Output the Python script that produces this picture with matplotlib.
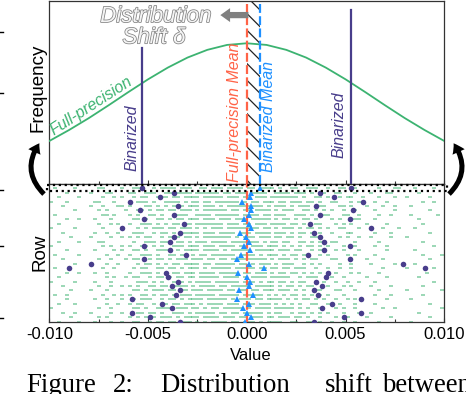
import matplotlib
matplotlib.use('Agg')
import matplotlib.pyplot as plt
from matplotlib.patches import Rectangle, FancyArrowPatch
from matplotlib.lines import Line2D
import matplotlib.patheffects as pe
from matplotlib.ticker import FixedLocator, FixedFormatter, NullFormatter

plt.rcParams['font.family'] = ['Liberation Sans', 'DejaVu Sans']
plt.rcParams['hatch.linewidth'] = 0.9

# ---------------- data ----------------
tick_values = [-0.010, -0.005, 0.000, 0.005, 0.010]
tick_labels = ["-0.010", "-0.005", "0.000", "0.005", "0.010"]
minor_ticks = [-0.0075, -0.0025, 0.0025, 0.0075]

# full-precision distribution curve (relative frequency)
curve_x = [-0.010, -0.009, -0.008, -0.007, -0.006, -0.005, -0.004, -0.003, -0.002, -0.001,
           0.000, 0.001, 0.002, 0.003, 0.004, 0.005, 0.006, 0.007, 0.008, 0.009, 0.010]
curve_y = [0.235, 0.295, 0.360, 0.430, 0.502, 0.572, 0.636, 0.691, 0.733, 0.760,
           0.769, 0.760, 0.733, 0.691, 0.636, 0.572, 0.502, 0.430, 0.360, 0.295, 0.235]

fp_mean = 0.0          # full-precision mean
bin_mean = 0.00065     # binarized mean
bin_value = 0.0053     # binarized magnitude of highlighted row
bin_line_heights = [0.743, 0.951]   # heights of the -/+ binarized bars

# per-row binarized magnitude (alpha) and row mean
row_alpha = [0.0053, 0.0037, 0.0044, 0.0059, 0.0035, 0.0054, 0.0037, 0.0052, 0.0032, 0.0063,
             0.0034, 0.0037, 0.0039, 0.0052, 0.0039, 0.0031, 0.0052, 0.0079, 0.0090, 0.0041,
             0.0040, 0.0035, 0.0038, 0.0034, 0.0036, 0.0058, 0.0043, 0.0038, 0.0058, 0.0049,
             0.0034]
row_mean = [0.00065, 0.0002, 0.00015, -0.00025, 0.0002, 0.0002, 0.0001, -0.00015, 0.0001, 0.0002,
            -0.00035, -0.00005, 0.0001, -0.00015, 0.00015, -0.0003, -0.0005, 0.0001, 0.00085, -0.00045,
            0.0, 0.00015, 0.0001, -0.0004, 0.0003, -0.0005, 0.0001, -0.0002, 0.0, 0.0002,
            -0.0001]

# full-precision weights per row (each char = 0.0002 bin from -0.010)
green_rows = [
    ".o....o... ..oo....o. .ooo..o.oo oo.ooo..oo .ooo.oooo. oo.oooo.o. .oo..ooo.. o..oo..o.. ...o...oo. ..o....o..",
    "....o..... o...oo.... oo..ooo..o o.oooo.ooo ooo.oo.ooo .oooo..ooo o.ooo.o.oo ..oo...o.. .o...oo... ...o......",
    "..o....o.. ...o..o.o. .o.oo..ooo .oo.oooo.o oooo.ooo.o o.ooo.oooo ooo.o..oo. o..o.oo..o ...o...o.. o.....o...",
    "o...o..... .oo...o... ..ooo.o..o ooo.o.oo.o o.oooooo.o .oo.ooo.oo .ooo.oo.o. .oo...o.o. ..o..o.... ....o..o..",
    "...o...... o..o...oo. o...oo.o.o .ooo.ooo.o oo.o.ooooo oooo.o.ooo .o.ooo..oo ...oo.o... o...o..o.. .o........",
    "......o... ..o.o....o ..oo.o.oo. oo.ooo.o.o ooooo.oo.o o.oooo.o.o oo..oo.o.o .o..o..o.. ..o....o.. ......o...",
    ".o........ ...oo.o... o.o..oo.o. .oooo..ooo o.oooooo.o ooo.oo.ooo ..ooo.o.oo o...oo..o. ...o..o... .o......o.",
    "....o..o.. .o...o.... .oo.o..oo. o.oo.ooo.o oo.ooo.ooo .ooooo.o.o o.o.oo.o.. .o.o...oo. ..o....... ...o......",
    "..o....... ..o..o.o.. o..ooo.o.o .oo.oo.ooo oooo.ooo.o o.ooo.oooo .oo.o..oo. ..o.o.o... o....o.... ....o.....",
    "o.....o... ...o....o. ..o.o.ooo. oo.ooo.o.o .ooo.ooooo ooo.oo.o.o oo.o.oo.o. o..oo...o. ....o...o. ..o.......",
    "...o...... .o..o..o.. .ooo..o.oo .o.ooooo.o oo.oooo.oo o.oooo.ooo .o.oo.o.o. .o...oo... ..o...o... ......o...",
    ".....o.... o....o..o. o.o.oo..o. ooo.oo.o.o oooooo.o.o oo.ooo.oo. oo.o..ooo. ...o.o..o. .o....o... o.........",
    "..o....o.. ..oo...... .o..ooo.oo o.oo.o.ooo .oooo.oooo ooo.o.oo.o o..oo.o.o. .oo....o.. ...o...... ....o.....",
    "o......... ...o.o..o. o..oo.o.o. .ooo.ooo.o oo.oooo.oo .ooo.ooo.o .o.o.oo.o. o...o..o.. ..o..o.... .......o..",
    "....o..... .o....o.o. .oo.o..ooo o.o.oooo.o ooo.o.oooo o.ooooo.oo o.oo..o.o. ..o.o...o. .....o.... ..o.......",
    ".o.....o.. ....o..o.. o..ooo.o.. oo.oo.o.oo .oooooo.oo oo.o.ooo.o .oo.oo..o. o....o.o.. ..o....... ....o....o",
    "...o...... ..o..o...o .oo..o.oo. o.ooo.ooo. oo.oo.oooo ooooo.o.oo o.o.o.oo.. .oo...o... o...o..... ......o...",
    "......o... o...o..o.. ..o.oo.o.o .oo.oooo.o o.ooooo.oo .o.ooo.o.o oo..o.o.o. ...o..o... .o.....o.. ..o.......",
    ".o........ ...o..o... .o.oo..oo. oo.o.ooo.o .ooooo.ooo oo.oo.oo.o o.ooo..o.. o..o..o... ....o..... o......o..",
    "....o..o.. .o..o..... o..ooo.o.o .oo.ooo.oo oo.ooooo.o o.ooo.o.oo .oo.o.o.o. ..o...o.o. ...o...... .....o....",
    "..o....... ....o.o..o .oo..o.oo. o.oo.oo.oo ooo.oooo.o .oooo.oooo o..o.ooo.. .o..o..... o....o.... ...o......",
    "o.....o... .o...o.... ..ooo.o.o. .ooo.o.ooo o.oooooo.o oo.o.oo.oo .o.oo..o.o ..o..o..o. ..o....... .......o..",
    "...o...... ..o..o..o. o.o..oo.oo .oooo.o.oo oo.oo.oooo o.ooooo.o. oo.o.oo... o...o.o... .o....o... ....o.....",
    ".....o.... o...o..... .oo.o.ooo. oo.oo.ooo. oooo.oo.oo .oo.ooo.oo o.o.o..oo. ..oo...o.. ...o...... o........o",
    ".o..o..... ...o..o.o. o..oo.o.oo .o.ooo.ooo oo.ooooo.o oooo.o.o.o .oo.o.o.o. o...o..... ..o...o... ....o.....",
    "....o..... .o..o...o. .o.ooo..o. oo.o.oooo. ooooo.o.oo o.oo.oooo. o.o.oo.o.o ..o..o.o.. .....o.... .o........",
    "..o...o... ....o..o.. o.oo..o.oo .oo.ooo.o. oooo.ooo.o oo.ooo.o.o .o.o..oo.. o..o...o.. ..o....... ......o...",
    "o......... ..o..o.... .oo.o..ooo o.ooo.oo.o .oo.ooooo. o.oooo.ooo oo.o.o..o. ..o.o..o.. ....o..o.. .........o",
    "...o..o... o....o..o. ..oo.oo.o. .ooo.o.ooo oo.oo.oo.o oooo.o.oo. .o.oo.o.o. o...o...o. .o........ ...o......",
    ".....o.... ..o.o..... o.o.ooo.oo o.o.oooo.o ooo.ooo.oo .ooo.oo.oo o.oo.o..o. ..o..o.... o.....o... ......o...",
    "..o....o.. .o...o..o. .oo..o.oo. oo.ooo.o.o .oooo.oo.o oo.o.oooo. .oo..oo.o. .o..o..o.. ...o...... .o........",
]

caption_words = ["Figure", "2:", "Distribution", "shift", "between"]
caption_x_px = [26.7, 113, 160, 325, 382]

# ---------------- styles ----------------
GREEN = '#3CB371'
NAVY = '#483D8B'
RED = '#FF6347'
BLUE = '#1E90FF'
SPINE = '#333333'

W, H = 466, 394
fig = plt.figure(figsize=(W / 100, H / 100), dpi=100)


def fx(px):
    return px / W


def fy(py):
    return 1 - py / H


L, R = 49.3, 444.3
ax_t = fig.add_axes([fx(L), fy(184), fx(R) - fx(L), fy(1) - fy(184)])
ax_b = fig.add_axes([fx(L), fy(322), fx(R) - fx(L), fy(184) - fy(322)])

for ax in (ax_t, ax_b):
    ax.set_xlim(tick_values[0], tick_values[-1])
    for s in ax.spines.values():
        s.set_color(SPINE)
        s.set_linewidth(0.9)
    ax.set_yticks([])
    ax.xaxis.set_major_locator(FixedLocator(tick_values))
    ax.xaxis.set_minor_locator(FixedLocator(minor_ticks))
    ax.tick_params(axis='x', which='major', direction='in', length=3, width=0.8, color=SPINE)
    ax.tick_params(axis='x', which='minor', direction='in', length=2.5, width=0.8, color=SPINE)

ax_t.xaxis.set_major_formatter(NullFormatter())
ax_b.xaxis.set_major_formatter(FixedFormatter(tick_labels))
ax_b.tick_params(axis='x', which='major', labelsize=12, pad=3.5)

# ---------- top panel ----------
ax_t.set_ylim(0, 1)
ax_t.plot(curve_x, curve_y, color=GREEN, lw=1.3, zorder=3)
ax_t.axvspan(fp_mean, bin_mean, facecolor='none', edgecolor='#222222', hatch='\\\\', lw=0, zorder=1)
ax_t.axvline(fp_mean, color=RED, lw=1.6, ls=(0, (4, 1.5)), zorder=4)
ax_t.axvline(bin_mean, color=BLUE, lw=1.6, ls=(0, (4, 1.5)), zorder=4)
ax_t.plot([-bin_value, -bin_value], [0, bin_line_heights[0]], color=NAVY, lw=1.6, zorder=4)
ax_t.plot([bin_value, bin_value], [0, bin_line_heights[1]], color=NAVY, lw=1.6, zorder=4)

it = dict(style='italic', fontsize=11.5)
ax_t.text(-0.00583, 0.254, "Binarized", color=NAVY, rotation=90, ha='center', va='center', **it)
ax_t.text(0.00468, 0.322, "Binarized", color=NAVY, rotation=90, ha='center', va='center', **it)
ax_t.text(-0.0006, 0.011, "Full-precision Mean", color=RED, rotation=90, ha='center', va='bottom', **it)
ax_t.text(0.00112, 0.066, "Binarized Mean", color=BLUE, rotation=90, ha='center', va='bottom', **it)
ax_t.text(-0.00789, 0.426, "Full-precision", color=GREEN, rotation=33, ha='center', va='center', **it)

outline = [pe.withStroke(linewidth=1.1, foreground='#808080')]
ax_t.text(-0.0046, 0.885, "Distribution", color='#f4f4f4', style='italic', fontsize=16,
          ha='center', va='baseline', path_effects=outline, zorder=6)
ax_t.text(-0.0047, 0.769, "Shift δ", color='#f4f4f4', style='italic', fontsize=16,
          ha='center', va='baseline', path_effects=outline, zorder=6)
ax_t.annotate('', xy=(-0.00148, 0.923), xytext=(0.00022, 0.923),
              arrowprops=dict(arrowstyle='simple,head_length=0.7,head_width=1.0,tail_width=0.45',
                              color='#808080', lw=0, mutation_scale=10), zorder=6)

# ---------- bottom panel ----------
ax_b.set_ylim(30.1, -0.95)
gx, gy = [], []
for r, s in enumerate(green_rows):
    s = s.replace(' ', '')
    for k, ch in enumerate(s):
        if ch == 'o':
            gx.append(-0.0099 + 0.0002 * k)
            gy.append(r)
rect_marker = [(-1, -0.6), (1, -0.6), (1, 0.6), (-1, 0.6), (-1, -0.6)]
ax_b.plot(gx, gy, ls='none', marker=rect_marker, ms=2.2, mew=0, color=GREEN, alpha=0.5, zorder=2)

ax_b.axvline(fp_mean, color=RED, lw=1.6, ls=(0, (4, 1.5)), zorder=3)
rows = list(range(len(row_alpha)))
ax_b.plot([-a for a in row_alpha], rows, ls='none', marker='o', ms=4.0, mew=0, color=NAVY, zorder=5)
ax_b.plot(row_alpha, rows, ls='none', marker='o', ms=4.0, mew=0, color=NAVY, zorder=5)
ax_b.plot(row_mean, rows, ls='none', marker='^', ms=4.2, mew=0, color=BLUE, zorder=5)

ax_b.add_patch(Rectangle((-0.01012, -0.72), 0.02025, 1.36, fill=False, ls=':', lw=1.6,
                         ec='k', clip_on=False, zorder=6))

# ---------- labels ----------
fig.text(fx(38.5), fy(87.5), "Frequency", rotation=90, ha='center', va='center', fontsize=13.5)
fig.text(fx(39.5), fy(252), "Row", rotation=90, ha='center', va='center', fontsize=13.5)
fig.text(fx(250.5), fy(360), "Value", ha='center', va='baseline', fontsize=12)

# curly arrows linking the highlighted row to the distribution
for (x0, y0, x1, y1, rad) in [(46, 196, 41, 141, -0.45), (447, 196, 452, 141, 0.45)]:
    arr = FancyArrowPatch((fx(x0), fy(y0)), (fx(x1), fy(y1)), transform=fig.transFigure,
                          connectionstyle=f"arc3,rad={rad}",
                          arrowstyle='simple,head_length=0.6,head_width=0.8,tail_width=0.3',
                          mutation_scale=12, color='k', lw=0)
    fig.add_artist(arr)

# small marks on the left margin
for yy in [32, 93, 190, 246, 318]:
    fig.add_artist(Line2D([0, fx(2.5)], [fy(yy), fy(yy)], color='k', lw=1.0))

# caption
for w, xp in zip(caption_words, caption_x_px):
    fig.text(fx(xp), fy(392), w, family=['Liberation Serif', 'DejaVu Serif'], fontsize=19.3,
             ha='left', va='baseline')

fig.savefig('out.png', dpi=100)
